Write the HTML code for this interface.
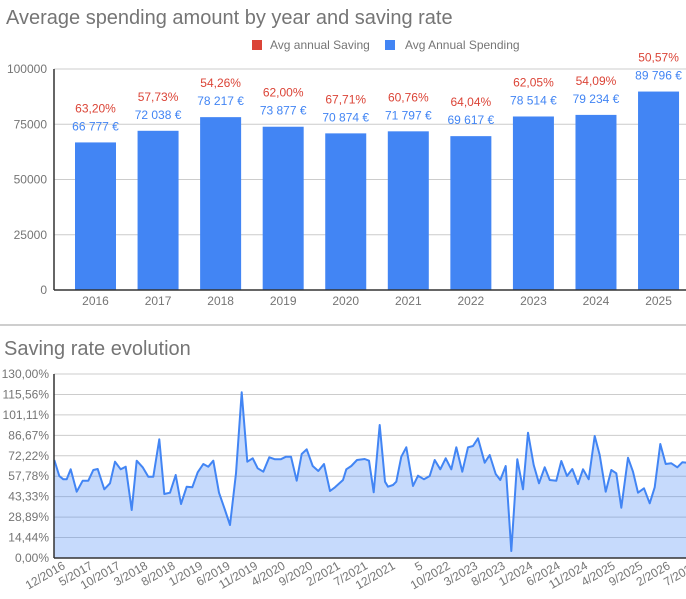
<!DOCTYPE html>
<html><head><meta charset="utf-8"><style>
html,body{margin:0;padding:0;background:#fff;}
svg{display:block;font-family:"Liberation Sans",Arial,sans-serif;}
</style></head><body>
<svg id="s" width="686" height="599" xmlns="http://www.w3.org/2000/svg">
<text x="6" y="24" font-size="20" fill="#757575">Average spending amount by year and saving rate</text>
<rect x="252" y="40" width="10" height="10" fill="#db4437"/>
<text x="270" y="49" font-size="12" fill="#757575">Avg annual Saving</text>
<rect x="385" y="40" width="10" height="10" fill="#4285f4"/>
<text x="405" y="49" font-size="12" fill="#757575">Avg Annual Spending</text>
<g id="gtop"></g>
<line x1="0" y1="325" x2="686" y2="325" stroke="#9e9e9e" stroke-width="1"/>
<text x="4" y="355" font-size="20" fill="#757575">Saving rate evolution</text>
<g id="gbot"></g>
</svg>
<script>
(function(){
var NS="http://www.w3.org/2000/svg";
function el(p,t,a,txt){var e=document.createElementNS(NS,t);for(var k in a)e.setAttribute(k,a[k]);if(txt!==undefined)e.textContent=txt;p.appendChild(e);return e;}
var gTop=document.getElementById('gtop');
var yv=[0,25000,50000,75000,100000];
yv.forEach(function(v){var y=290-v*221/100000;
 if(v>0)el(gTop,'line',{x1:54,x2:686,y1:y,y2:y,stroke:'#cccccc','stroke-width':1});
 el(gTop,'text',{x:47,y:y+4,'font-size':12,fill:'#757575','text-anchor':'end'},String(v));});
var vals=[66777,72038,78217,73877,70874,71797,69617,78514,79234,89796];
var pcts=["63,20%","57,73%","54,26%","62,00%","67,71%","60,76%","64,04%","62,05%","54,09%","50,57%"];
var vs=["66 777 €","72 038 €","78 217 €","73 877 €","70 874 €","71 797 €","69 617 €","78 514 €","79 234 €","89 796 €"];
vals.forEach(function(v,i){var c=95.5+62.56*i;var t=290-v*221/100000;
 el(gTop,'rect',{x:c-20.5,y:t,width:41,height:290-t,fill:'#4285f4'});
 el(gTop,'text',{x:c,y:t-30,'font-size':12,fill:'#db4437','text-anchor':'middle'},pcts[i]);
 el(gTop,'text',{x:c,y:t-12,'font-size':12,fill:'#4285f4','text-anchor':'middle'},vs[i]);
 el(gTop,'text',{x:c,y:305,'font-size':12,fill:'#757575','text-anchor':'middle'},String(2016+i));});
el(gTop,'line',{x1:54,x2:54,y1:69,y2:290,stroke:'#333',"stroke-width":1.5});
el(gTop,'line',{x1:54,x2:686,y1:290,y2:290,stroke:'#333',"stroke-width":1.5});
var gBot=document.getElementById('gbot');
var labs=["130,00%","115,56%","101,11%","86,67%","72,22%","57,78%","43,33%","28,89%","14,44%","0,00%"];
labs.forEach(function(l,i){var y=374+i*184/9;
 if(i<9)el(gBot,'line',{x1:54,x2:686,y1:y,y2:y,stroke:'#cccccc','stroke-width':1});
 el(gBot,'text',{x:49,y:y+4,'font-size':12,fill:'#757575','text-anchor':'end'},l);});
var z1=[[163,300],[178,348],[190,358],[200,358],[212,328],[230,395],[248,362],[265,362],[280,330],[293,327],[313,388],[330,370],[345,305],[362,328],[377,320],[395,450],[410,302],[428,322],[445,350],[460,350],[478,238],[493,402],[510,398],[527,345],[543,432],[560,380],[577,382],[593,337],[610,312],[625,320],[640,302],[657,398],[675,450],[690,495],[708,340],[725,97],[742,305],[758,295],[773,325],[790,335],[808,292],[825,298],[842,298],[858,290],[873,290],[890,362],[905,282],[920,268],[938,318],[955,333],[972,312],[990,393],[1005,382]];
var z2=[[0,360],[10,328],[25,318],[42,300],[65,297],[78,302],[92,397],[110,195],[126,365],[135,380],[150,375],[160,365],[175,290],[190,262],[210,378],[225,347],[243,358],[260,348],[275,300],[292,328],[308,295],[325,328],[340,262],[358,335],[375,262],[390,258],[405,235],[425,308],[440,285],[458,342],[472,360],[488,318],[505,573],[523,298],[540,388],[555,218],[572,315],[588,370],[605,322],[620,360],[640,362],[655,303],[672,348],[688,327],[705,372],[720,328],[737,358],[755,228],[770,285],[788,395],[805,330],[820,340],[835,443],[855,293],[870,335],[885,398],[903,385],[920,430],[935,382],[952,252],[968,312],[985,310],[1003,322],[1018,307],[1032,308]];
var pts=z1.map(function(p){return [p[0]/3,360+p[1]/3];}).concat(z2.map(function(p){return [343+p[0]/3,360+p[1]/3];}));
var d="M"+pts.map(function(p){return p[0].toFixed(1)+","+p[1].toFixed(1);}).join(" L");
el(gBot,'path',{d:d+" L686,558 L54.3,558 Z",fill:'#4285f4','fill-opacity':0.3,stroke:'none'});
el(gBot,'path',{d:d,fill:'none',stroke:'#4285f4','stroke-width':2,'stroke-linejoin':'round'});
el(gBot,'line',{x1:54,x2:54,y1:374,y2:558,stroke:'#333',"stroke-width":1.5});
el(gBot,'line',{x1:54,x2:686,y1:558,y2:558,stroke:'#333',"stroke-width":1.5});
var xl=["12/2016","5/2017","10/2017","3/2018","8/2018","1/2019","6/2019","11/2019","4/2020","9/2020","2/2021","7/2021","12/2021","5","10/2022","3/2023","8/2023","1/2024","6/2024","11/2024","4/2025","9/2025","2/2026","7/2026"];
xl.forEach(function(l,i){var x=66+27.5*i,y=568;
 el(gBot,'text',{x:x,y:y,'font-size':12,fill:'#757575','text-anchor':'end',transform:'rotate(-30 '+x+' '+y+')'},l);});
})();
</script>
</body></html>
